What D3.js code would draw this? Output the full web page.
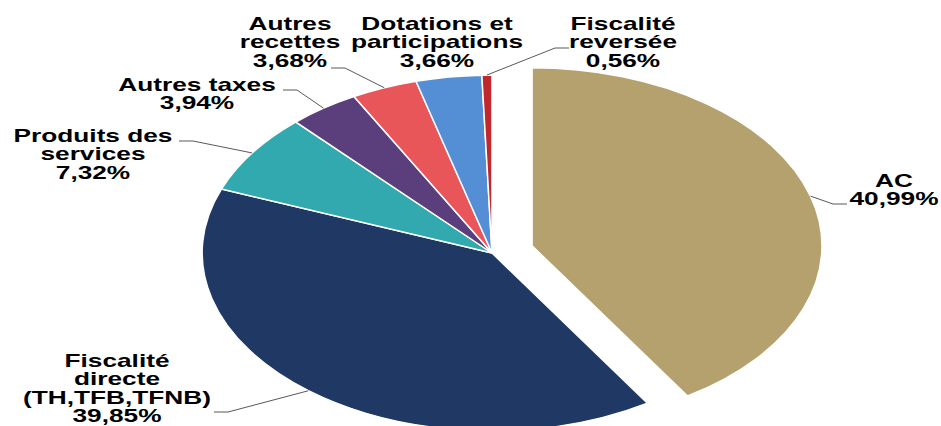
<!DOCTYPE html>
<html>
<head>
<meta charset="utf-8">
<script src="https://cdnjs.cloudflare.com/ajax/libs/d3/7.8.5/d3.min.js"></script>
<style>
  html, body { margin: 0; padding: 0; background: #fff; }
  svg { display: block; }
  .lbl { font-family: "Liberation Sans", Arial, sans-serif; font-weight: bold; font-size: 17.5px; fill: #000; }
  .leader { fill: none; stroke: #595959; stroke-width: 1; }
</style>
</head>
<body>
<svg id="chart" width="941" height="426"></svg>
<script>
// data, clockwise from 12 o'clock
var categories = ['AC', 'Fiscalité directe (TH,TFB,TFNB)', 'Produits des services', 'Autres taxes',
  'Autres recettes', 'Dotations et participations', 'Fiscalité reversée'];
var labelLines = [['AC'], ['Fiscalité', 'directe', '(TH,TFB,TFNB)'], ['Produits des', 'services'],
  ['Autres taxes'], ['Autres', 'recettes'], ['Dotations et', 'participations'], ['Fiscalité', 'reversée']];
var values = [40.99, 39.85, 7.32, 3.94, 3.68, 3.66, 0.56];
var colors = ['#B5A16E', '#1F3864', '#31A9AE', '#5B3F7C', '#E9565A', '#548FD6', '#C0282E'];
var exploded = [0.144, 0, 0, 0, 0, 0, 0];

// layout
var G = {
  cx: 492, cy: 253,   // pie centre
  rx: 290, ry: 178,   // stretched pie
  lineH: 18.3,
  textScale: 1.5
};
// label position: x centre, baseline of first line, elbow end x (null = no leader)
var labelPos = [
  { x: 894, y: 187, elbow: 833, ly: 204 },
  { x: 117, y: 367, elbow: 228, ly: 412 },
  { x: 93, y: 142, elbow: 193, ly: 141 },
  { x: 197, y: 91, elbow: 297, ly: 90 },
  { x: 290, y: 30, elbow: 345, ly: 68 },
  { x: 437, y: 30, elbow: null },
  { x: 623, y: 30, elbow: 555, ly: 48 }
];
var fmt = d3.format('.2f');

var svg = d3.select('#chart');
var pie = d3.pie().sort(null).value(function(d) { return d; });
var arcs = pie(values);
var arc = d3.arc().innerRadius(0).outerRadius(1);

function offset(d, i) {
  var a = (d.startAngle + d.endAngle) / 2;
  return [G.cx + exploded[i] * Math.sin(a) * G.rx, G.cy - exploded[i] * Math.cos(a) * G.ry];
}

svg.selectAll('.slice')
  .data(arcs)
  .enter()
  .append('path')
  .attr('class', 'slice')
  .attr('d', arc)
  .attr('transform', function(d, i) {
    var o = offset(d, i);
    return 'translate(' + o[0] + ',' + o[1] + ') scale(' + G.rx + ',' + G.ry + ')';
  })
  .style('fill', function(d, i) { return colors[i]; })
  .style('stroke', '#fff')
  .style('stroke-width', 1.5)
  .attr('vector-effect', 'non-scaling-stroke');

// leader lines: from slice edge at mid angle to an elbow near the label
arcs.forEach(function(d, i) {
  var p = labelPos[i];
  if (p.elbow === null) { return; }
  var a = (d.startAngle + d.endAngle) / 2;
  var o = offset(d, i);
  var ex = o[0] + Math.sin(a) * G.rx, ey = o[1] - Math.cos(a) * G.ry;
  var endX = p.elbow < ex ? p.elbow - 14 : p.elbow + 14;
  svg.append('path')
    .attr('class', 'leader')
    .attr('d', d3.line()([[ex, ey], [p.elbow, p.ly], [endX, p.ly]]));
});

// labels
arcs.forEach(function(d, i) {
  var p = labelPos[i];
  var lines = labelLines[i].concat([fmt(values[i]).replace('.', ',') + '%']);
  var t = svg.append('text')
    .attr('class', 'lbl')
    .attr('text-anchor', 'middle')
    .attr('transform', 'translate(' + p.x + ',' + p.y + ') scale(' + G.textScale + ',1)');
  lines.forEach(function(s, k) {
    t.append('tspan').attr('x', 0).attr('y', k * G.lineH).text(s);
  });
});
</script>
</body>
</html>
